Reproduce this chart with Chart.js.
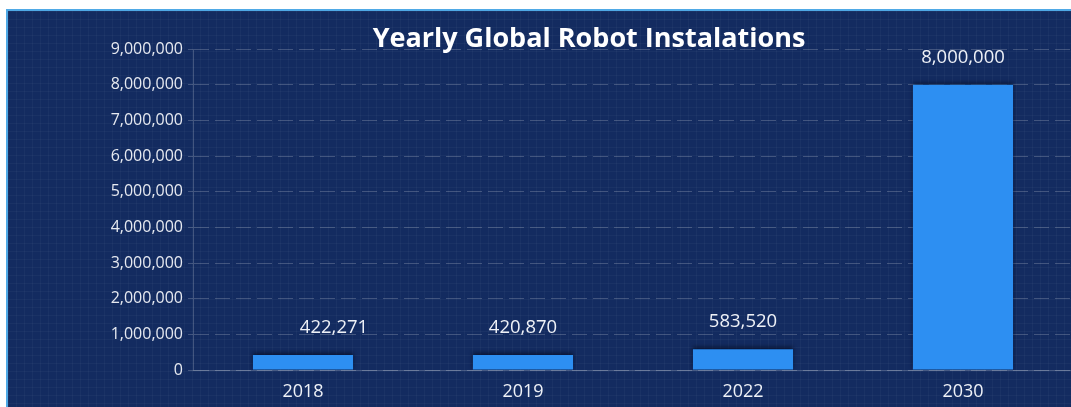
<!DOCTYPE html>
<html>
<head>
<meta charset="utf-8">
<script src="https://cdn.jsdelivr.net/npm/chart.js@4"></script>
<style>
  html, body { margin: 0; padding: 0; background: #ffffff; overflow: hidden; width: 1071px; height: 407px; }
  #frame {
    position: absolute; left: 6px; top: 9px; width: 1067px; height: 398px;
    border-left: 2px solid #4fa9e6; border-top: 2px solid #4fa9e6;
    background-color: #132b60;
    background-image:
      linear-gradient(rgba(255,255,255,0.03) 1px, transparent 1px),
      linear-gradient(90deg, rgba(255,255,255,0.03) 1px, transparent 1px);
    background-size: 8px 8px;
    overflow: hidden;
  }
  #wrap { position: absolute; left: 0; top: 0; width: 1065px; height: 396px; }
</style>
</head>
<body>
<div id="frame"><div id="wrap"><canvas id="c"></canvas></div></div>
<script>
const categories = ["2018", "2019", "2022", "2030"];
const installations = [422271, 420870, 583520, 8000000];
const titleText = "Yearly Global Robot Instalations";
const yMax = 9000000;
const yStep = 1000000;

const FONT = "'Open Sans', 'Noto Sans', sans-serif";

const barShadow = {
  id: 'barShadow',
  beforeDatasetsDraw(chart) {
    const ctx = chart.ctx;
    ctx.save();
    ctx.shadowColor = 'rgba(5,12,35,0.75)';
    ctx.shadowBlur = 4;
    ctx.shadowOffsetY = -2;
  },
  afterDatasetsDraw(chart) { chart.ctx.restore(); }
};

const valueLabels = {
  id: 'valueLabels',
  afterDraw(chart, args, opts) {
    const ctx = chart.ctx;
    const meta = chart.getDatasetMeta(0);
    ctx.save();
    ctx.font = '18.5px ' + FONT;
    ctx.fillStyle = '#eef1f7';
    ctx.textAlign = 'center';
    ctx.textBaseline = 'middle';
    meta.data.forEach((bar, i) => {
      const v = chart.data.datasets[0].data[i];
      const dx = (opts.dx && opts.dx[i]) || 0;
      ctx.fillText(v.toLocaleString('en-US'), bar.x + dx, bar.y - 27);
    });
    ctx.restore();
  }
};

const overlayTitle = {
  id: 'overlayTitle',
  afterDraw(chart) {
    const ctx = chart.ctx;
    ctx.save();
    ctx.font = 'bold 27px ' + FONT;
    ctx.fillStyle = '#ffffff';
    ctx.textAlign = 'center';
    ctx.textBaseline = 'middle';
    ctx.fillText(titleText, chart.chartArea.left + 396, 28);
    ctx.restore();
  }
};

new Chart(document.getElementById('c'), {
  type: 'bar',
  data: {
    labels: categories,
    datasets: [{
      data: installations,
      backgroundColor: '#2d8ff2',
      borderWidth: 0,
      barPercentage: 0.91,
      categoryPercentage: 0.5
    }]
  },
  options: {
    responsive: true,
    maintainAspectRatio: false,
    animation: false,
    layout: { padding: { top: 38, left: 0, right: 0, bottom: 0 } },
    plugins: {
      legend: { display: false },
      title: { display: false },
      tooltip: { enabled: false },
      valueLabels: { dx: [31, 0, 0, 0] }
    },
    scales: {
      x: {
        grid: { display: false, drawTicks: false },
        border: { display: true, color: 'rgba(255,255,255,0.22)', width: 1 },
        ticks: { color: '#eef1f7', font: { family: FONT, size: 18 }, padding: 11 },
        afterFit(s) { s.height = 37; }
      },
      y: {
        min: 0, max: yMax,
        ticks: {
          stepSize: yStep,
          color: '#e6e9f0',
          font: { family: FONT, size: 16 },
          padding: 5,
          callback: v => v.toLocaleString('en-US')
        },
        grid: {
          color: 'rgba(255,255,255,0.2)',
          tickLength: 5,
          tickColor: 'rgba(255,255,255,0.2)'
        },
        border: { display: true, color: 'rgba(255,255,255,0.2)', dash: [15, 6], width: 1 },
        afterFit(s) { s.width = 185; }
      }
    }
  },
  plugins: [barShadow, valueLabels, overlayTitle]
});
</script>
</body>
</html>
